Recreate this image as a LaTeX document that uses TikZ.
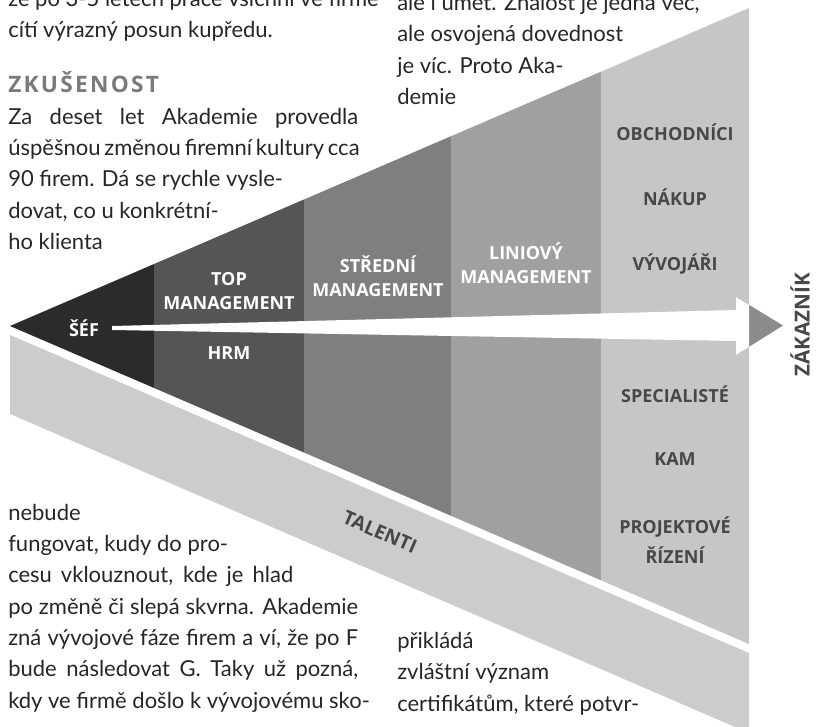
\documentclass[tikz,border=0pt]{standalone}
\usepackage{fontspec}
\setmainfont{Lato}
\newfontfamily\labelfont{Open Sans}
\usetikzlibrary{calc}
\usetikzlibrary{positioning}
\definecolor{ak-lvl1}{HTML}{2B2B2B}
\definecolor{ak-lvl2}{HTML}{555555}
\definecolor{ak-lvl3}{HTML}{7F7F7F}
\definecolor{ak-lvl4}{HTML}{A0A0A0}
\definecolor{ak-lvl5}{HTML}{C6C6C6}
\definecolor{ak-band}{HTML}{CCCCCC}
\definecolor{ak-tip}{HTML}{8C8C8C}
\definecolor{ak-text}{HTML}{262626}
\definecolor{ak-label}{HTML}{474747}
\definecolor{ak-head}{HTML}{7A7A7A}
\newcommand\fullline[2][262.5pt]{\makebox[#1][s]{#2}}

\begin{document}
\begin{tikzpicture}[
    x=0.75pt, y=-0.75pt, % one unit = one pixel of the page
    font=\fontsize{16.5}{23.5}\selectfont
  ]

  \tikzset{
    lvlwhite/.style={font=\labelfont\bfseries\fontsize{13.5}{18}\selectfont, text=white, align=center, inner sep=0pt},
    lvldark/.style={lvlwhite, text=ak-label},
    bodytext/.style={anchor=base west, align=left, inner sep=0pt, text=ak-text},
    headline/.style={anchor=base west, inner sep=0pt, text=ak-head, font=\labelfont\bfseries\fontsize{17}{18}\selectfont\addfontfeature{LetterSpace=10}}
  }

  \path[use as bounding box, clip] (0,0) rectangle (820,727);

  % wedge of the levels, cut into five bands
  \begin{scope}
    \clip (10,326) -- (749,8) -- (749,644) -- cycle;
    \fill[ak-lvl1] (0,0) rectangle (154,727);
    \fill[ak-lvl2] (154,0) rectangle (304,727);
    \fill[ak-lvl3] (304,0) rectangle (451,727);
    \fill[ak-lvl4] (451,0) rectangle (601,727);
    \fill[ak-lvl5] (601,0) rectangle (749,727);
  \end{scope}

  % talent strip under the wedge
  \fill[ak-band] (10,335) -- (749,653) -- (749,733) -- (10,414) -- cycle;

  % level labels
  \node (sef)     [lvlwhite] at (84,328)  {ŠÉF};
  \node (topm)    [lvlwhite] at (229,291) {TOP\\MANAGEMENT};
  \node (hrm)     [lvlwhite] at (229,353) {HRM};
  \node (stredni) [lvlwhite] at (378,276) {STŘEDNÍ\\MANAGEMENT};
  \node (liniovy) [lvlwhite] at (526,263) {LINIOVÝ\\MANAGEMENT};
  \node (obch)    [lvldark] at (675,132) {OBCHODNÍCI};
  \node (nakup)   [lvldark] at (675,197) {NÁKUP};
  \node (vyvoj)   [lvldark] at (675,264) {VÝVOJÁŘI};
  \node (spec)    [lvldark] at (675,394) {SPECIALISTÉ};
  \node (kam)     [lvldark] at (675,459) {KAM};
  \node (projekt) [lvldark, font=\labelfont\bfseries\fontsize{13.5}{22.5}\selectfont] at (675,540) {PROJEKTOVÉ\\ŘÍZENÍ};
  \node (talenti) [lvldark, font=\labelfont\bfseries\fontsize{14.5}{18}\selectfont, rotate=-23.3] at (380,532) {TALENTI};
  \node (zakaznik) [lvldark, font=\labelfont\bfseries\fontsize{15.5}{18}\selectfont, rotate=90] at (800,325) {ZÁKAZNÍK};

  % arrow from the boss out to the customer
  \coordinate (tip) at (783,325.5);
  \fill[white] ($(sef.east)+(13,-2)$) -- (736,310) -- (736,341) -- ($(sef.east)+(13,2)$) -- cycle;
  \fill[ak-tip] (736,297) -- (tip) -- (736,355) -- cycle;
  \begin{scope}
    \clip (601,0) rectangle (749,727);
    \fill[white] (736,297) -- (tip) -- (736,355) -- cycle;
  \end{scope}

  % running text of the page (anchored at the baseline of the last line)
  \node (intro) [bodytext] at (8,38) {že po 3-5 letech práce všichni ve firmě\\cítí výrazný posun kupředu.};
  \node (zkusenost) [headline] at (8,93) {ZKUŠENOST};
  \node (firmy) [bodytext] at (8,249.5) {\fullline{Za deset let Akademie provedla}\\\fullline{úspěšnou změnou firemní kultury cca}\\90 firem. Dá se rychle vysle-\\dovat, co u konkrétní-\\ho klienta};
  \node (znalost) [bodytext] at (397,104.5) {ale i umět. Znalost je jedna věc,\\ale osvojená dovednost\\je víc. Proto Aka-\\demie};
  \node (proces) [bodytext] at (8,708) {nebude\\fungovat, kudy do pro-\\\fullline[213.75pt]{cesu vklouznout, kde je hlad}\\\fullline{po změně či slepá skvrna. Akademie}\\\fullline{zná vývojové fáze firem a ví, že po F}\\\fullline{bude následovat G. Taky už pozná,}\\kdy ve firmě došlo k vývojovému sko-};
  \node (certif) [bodytext] at (397,711) {přikládá\\zvláštní význam\\certifikátům, které potvr-};

\end{tikzpicture}
\end{document}
